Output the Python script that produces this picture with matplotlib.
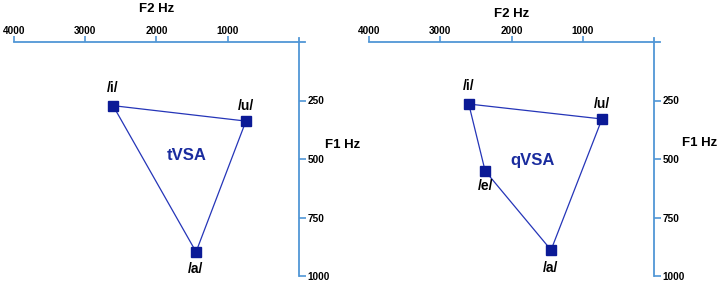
import matplotlib.pyplot as plt

plt.rcParams['font.family'] = ['Liberation Sans', 'DejaVu Sans']

# vowel formants (F2, F1 in Hz)
t_vowels = ['/i/', '/u/', '/a/']
t_f2 = [2610, 745, 1445]
t_f1 = [272, 338, 897]

q_vowels = ['/i/', '/u/', '/a/', '/e/']
q_f2 = [2600, 730, 1445, 2370]
q_f1 = [265, 329, 889, 551]

x_ticks = [4000, 3000, 2000, 1000]
y_ticks = [250, 500, 750, 1000]

AXIS_BLUE = '#5096d6'
MARK_BLUE = '#0b1a96'
LINE_BLUE = '#2535b8'
TEXT_BLUE = '#1a2c9e'

fig = plt.figure(figsize=(7.19, 2.85), dpi=100)


def draw_panel(ax, names, f2, f1, order, label, label_pos, offsets):
    ax.set_xlim(4000, 0)
    ax.set_ylim(1000, 0)
    for s in ax.spines.values():
        s.set_visible(False)
    ax.patch.set_alpha(0)

    # hand-drawn looking axes along top and right
    ax.plot([4000, -90], [0, 0], color=AXIS_BLUE, lw=1.3, clip_on=False)
    ax.plot([0, 0], [-18, 1000], color=AXIS_BLUE, lw=1.3, clip_on=False)

    ax.xaxis.tick_top()
    ax.yaxis.tick_right()
    ax.set_xticks(x_ticks)
    ax.set_yticks(y_ticks)
    ax.tick_params(axis='x', direction='out', length=4, width=1.2, color=AXIS_BLUE,
                   labelsize=7.2, pad=0)
    ax.tick_params(axis='y', direction='out', length=5, width=1.2, color=AXIS_BLUE,
                   labelsize=7.2, pad=1)
    for t in ax.get_xticklabels() + ax.get_yticklabels():
        t.set_fontweight('bold')

    xs = [f2[i] for i in order] + [f2[order[0]]]
    ys = [f1[i] for i in order] + [f1[order[0]]]
    ax.plot(xs, ys, color=LINE_BLUE, lw=0.9, zorder=2)
    ax.plot(f2, f1, 's', color=MARK_BLUE, ms=7, zorder=3, clip_on=False)

    for n, x, y, off in zip(names, f2, f1, offsets):
        ax.annotate(n, (x, y), xytext=(0, off), textcoords='offset points',
                    ha='center', va='center', fontsize=10, fontweight='bold')

    ax.text(label_pos[0], label_pos[1], label, ha='center', va='center',
            fontsize=12, fontweight='bold', color=TEXT_BLUE)

    ax.text(0.5, 1.0, 'F2 Hz', transform=ax.transAxes, ha='center', va='center',
            fontsize=9.5, fontweight='bold')
    ax.text(1.0, 0.56, 'F1 Hz', transform=ax.transAxes, ha='left', va='center',
            fontsize=9.5, fontweight='bold')


ax1 = fig.add_axes([14 / 719, 9 / 285, 285 / 719, 234 / 285])
draw_panel(ax1, t_vowels, t_f2, t_f1, [0, 1, 2], 'tVSA', (1580, 485),
           [13, 11, -12])
ax1.texts[-2].set_position((0.5, 1.14))
ax1.texts[-1].set_position((1.09, 0.56))

ax2 = fig.add_axes([369 / 719, 9 / 285, 285 / 719, 234 / 285])
draw_panel(ax2, q_vowels, q_f2, q_f1, [0, 1, 2, 3], 'qVSA', (1710, 505),
           [13, 11, -13, -11])
ax2.texts[-2].set_position((0.5, 1.12))
ax2.texts[-1].set_position((1.1, 0.57))

fig.savefig('out.png', dpi=100)
